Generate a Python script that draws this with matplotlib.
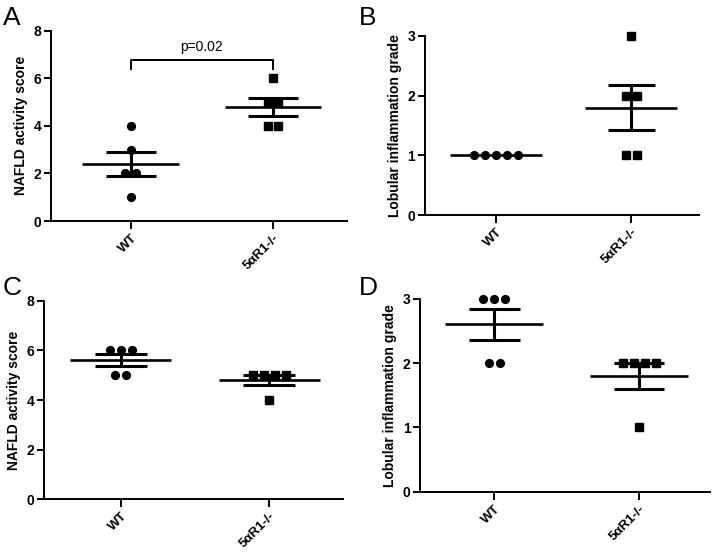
import numpy as np
import matplotlib
matplotlib.use('Agg')
import matplotlib.pyplot as plt

plt.rcParams['font.family'] = ['Liberation Sans', 'DejaVu Sans']

groups = ['WT', '5αR1-/-']

# values per mouse
nas_a_wt = [4, 3, 2, 2, 1]
nas_a_ko = [6, 5, 5, 4, 4]
lob_b_wt = [1, 1, 1, 1, 1]
lob_b_ko = [3, 2, 2, 1, 1]
nas_c_wt = [6, 6, 6, 5, 5]
nas_c_ko = [5, 5, 5, 5, 4]
lob_d_wt = [3, 3, 3, 2, 2]
lob_d_ko = [2, 2, 2, 2, 1]

nas_ticks = [0, 2, 4, 6, 8]
lob_ticks = [0, 1, 2, 3]


def spread(vals, step):
    # put repeated values side by side like a column scatter
    vals = np.asarray(vals, dtype=float)
    offs = np.zeros(len(vals))
    for v in np.unique(vals):
        idx = np.where(vals == v)[0]
        n = len(idx)
        offs[idx] = (np.arange(n) - (n - 1) / 2) * step
    return offs


def panel(ax, wt, ko, ticks, ylabel, xlim, step):
    for i, (vals, mk, ms) in enumerate([(wt, 'o', 5.6), (ko, 's', 5.2)]):
        vals = np.asarray(vals, dtype=float)
        ax.plot(i + spread(vals, step), vals, mk, color='black', ms=ms,
                mec='black', clip_on=False, zorder=2)
        m = vals.mean()
        sem = vals.std(ddof=1) / np.sqrt(len(vals))
        ax.hlines(m, i - 0.34, i + 0.34, color='black', lw=1.9, zorder=3)
        if sem > 0:
            ax.hlines([m - sem, m + sem], i - 0.175, i + 0.175, color='black', lw=2.2, zorder=3)
            ax.vlines(i, m - sem, m + sem, color='black', lw=2.2, zorder=3)
    ax.set_xlim(*xlim)
    ax.set_ylim(ticks[0], ticks[-1])
    ax.set_yticks(ticks)
    ax.set_xticks([0, 1])
    ax.set_xticklabels(groups, rotation=45, ha='right', rotation_mode='anchor',
                       fontsize=9.5, fontweight='bold')
    for lab in ax.get_yticklabels():
        lab.set_fontsize(10)
        lab.set_fontweight('bold')
    ax.set_ylabel(ylabel, fontsize=10, fontweight='bold')
    ax.spines['top'].set_visible(False)
    ax.spines['right'].set_visible(False)
    ax.spines['left'].set_linewidth(1.4)
    ax.spines['bottom'].set_linewidth(1.4)
    ax.tick_params(axis='both', width=1.4, length=5, pad=2)
    ax.tick_params(axis='x', length=6)


fig = plt.figure(figsize=(7.14, 5.57), dpi=100)
ax_a = fig.add_axes([0.0714, 0.6032, 0.4146, 0.3417])
ax_b = fig.add_axes([0.5952, 0.6140, 0.3834, 0.3214])
ax_c = fig.add_axes([0.0620, 0.1036, 0.4184, 0.3565])
ax_d = fig.add_axes([0.5887, 0.1172, 0.4057, 0.3465])

panel(ax_a, nas_a_wt, nas_a_ko, nas_ticks, 'NAFLD activity score', (-0.56, 1.52), 0.077)
panel(ax_b, lob_b_wt, lob_b_ko, lob_ticks, 'Lobular inflammation grade', (-0.526, 1.50), 0.081)
panel(ax_c, nas_c_wt, nas_c_ko, nas_ticks, 'NAFLD activity score', (-0.514, 1.496), 0.074)
panel(ax_d, lob_d_wt, lob_d_ko, lob_ticks, 'Lobular inflammation grade', (-0.51, 1.49), 0.076)

# significance bracket in panel A
ax_a.plot([0, 0, 1, 1], [6.38, 6.77, 6.77, 6.38], color='black', lw=1.4, clip_on=False)
ax_a.text(0.5, 7.0, 'p=0.02', ha='center', va='bottom', fontsize=10)

for lbl, x, y in [('A', 0.004, 0.99), ('B', 0.503, 0.99), ('C', 0.004, 0.505), ('D', 0.503, 0.505)]:
    fig.text(x, y, lbl, fontsize=19, ha='left', va='top')

fig.savefig('out.png', dpi=100)
